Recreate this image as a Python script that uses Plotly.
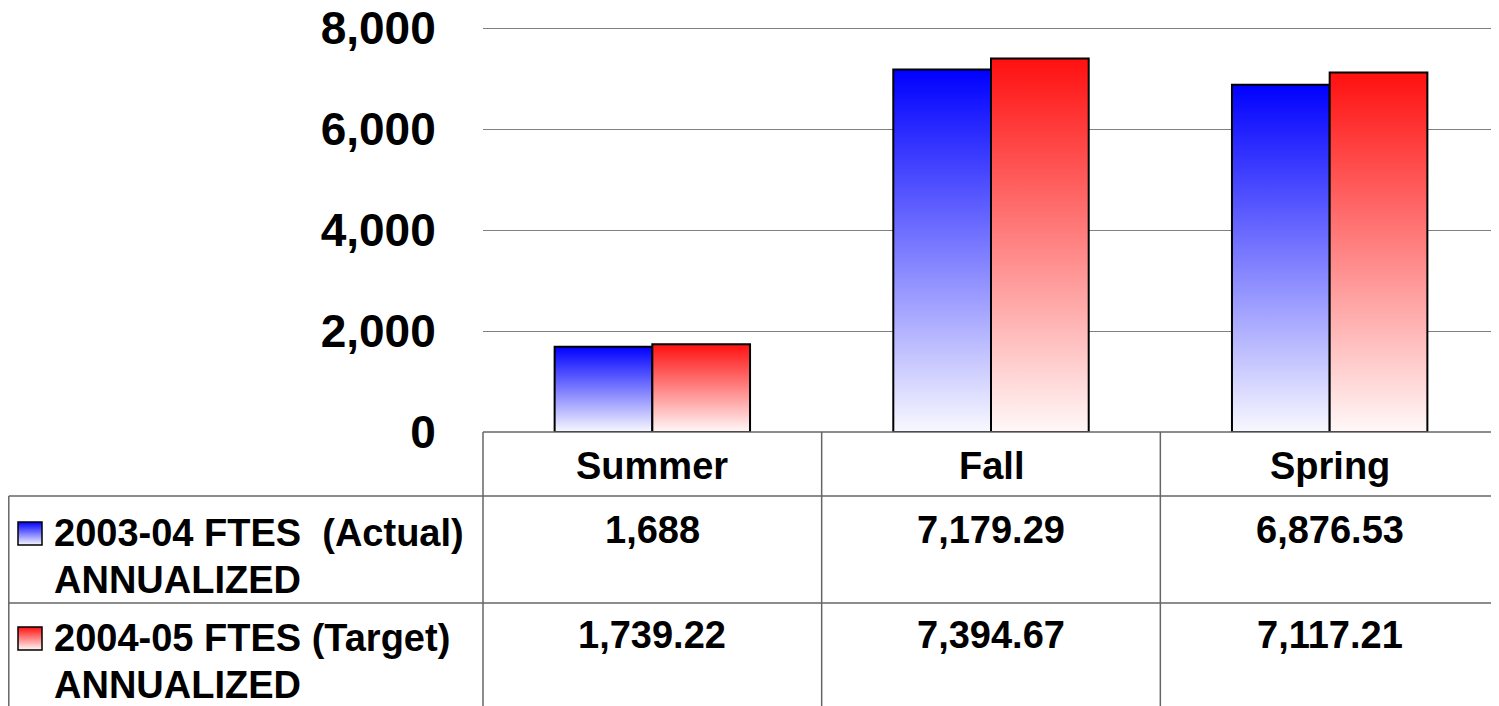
import plotly.graph_objects as go

# data
seasons = ["Summer", "Fall", "Spring"]
series_names = ["2003-04 FTES\u00a0 (Actual)", "2004-05 FTES (Target)"]
series_note = "ANNUALIZED"
ftes_actual = [1688, 7179.29, 6876.53]
ftes_target = [1739.22, 7394.67, 7117.21]
y_ticks = [0, 2000, 4000, 6000, 8000]
y_max = 8000

# look
FONT = "Arial, Liberation Sans, sans-serif"
BLUE = ("#f8f8ff", "#0000ff")  # bottom, top
RED = ("#fff8f8", "#ff1010")
GRID = "#808080"
TABLE_LINE = "#666666"
BAR_W = 0.2885

# geometry in page pixels (the page body adds an 8px margin)
OFF = 8
W, H = 1499 - OFF, 706 - OFF
PLOT_L, PLOT_B = 483, 432
TOP_GRID = 28            # where y_max sits
PLOT_T = TOP_GRID - 3    # a few px of headroom so the top gridline is kept
L, T = PLOT_L - OFF, PLOT_T - OFF
B = H - (PLOT_B - OFF)
PW, PH = W - L, H - T - B
y_top = y_max * (PLOT_B - PLOT_T) / (PLOT_B - TOP_GRID)


def px(x):
    return (x - PLOT_L) / PW


def py(y):
    return (PLOT_B - y) / PH


def mix(c0, c1, t):
    a = [int(c0[i:i + 2], 16) for i in (1, 3, 5)]
    b = [int(c1[i:i + 2], 16) for i in (1, 3, 5)]
    return "rgb(%d,%d,%d)" % tuple(round(a[k] + (b[k] - a[k]) * t) for k in range(3))


fig = go.Figure()

series = [(ftes_actual, BLUE, -BAR_W), (ftes_target, RED, 0.0)]
for vals, cols, offset in series:
    for i, v in enumerate(vals):
        x0 = i + offset
        x1 = x0 + BAR_W
        fig.add_trace(go.Scatter(
            x=[x0, x0, x1, x1, x0], y=[0, v, v, 0, 0],
            mode="lines", fill="toself",
            fillgradient=dict(type="vertical", colorscale=[[0, cols[0]], [1, cols[1]]]),
            line=dict(color="black", width=2),
            hoverinfo="skip", showlegend=False,
        ))

n = len(seasons)
shapes = []
ann = []
line = dict(color=TABLE_LINE, width=1.5)
left_edge = OFF + 0.8
page_bottom = 706

# data table grid
shapes.append(dict(type="line", xref="paper", yref="paper", x0=0, x1=1, y0=py(432), y1=py(432), line=line))
for yy in (496, 603):
    shapes.append(dict(type="line", xref="paper", yref="paper", x0=px(left_edge), x1=1,
                       y0=py(yy), y1=py(yy), line=line))
shapes.append(dict(type="line", xref="paper", yref="paper", x0=px(left_edge), x1=px(left_edge),
                   y0=py(496), y1=py(page_bottom), line=line))
for k in range(n):
    shapes.append(dict(type="line", xref="paper", yref="paper", x0=k / n, x1=k / n,
                       y0=py(432), y1=py(page_bottom), line=line))

cell_font = dict(family=FONT, size=38, color="black", weight="bold")
for i, s in enumerate(seasons):
    ann.append(dict(x=i, y=py(466), xref="x", yref="paper", text=s, showarrow=False,
                    font=cell_font, xanchor="center", yanchor="middle"))

rows = [(ftes_actual, 533, BLUE), (ftes_target, 638, RED)]
for (vals, yc, cols), name in zip(rows, series_names):
    for i, v in enumerate(vals):
        ann.append(dict(x=i, y=py(yc - 3), xref="x", yref="paper", text=f"{v:,}", showarrow=False,
                        font=cell_font, xanchor="center", yanchor="middle"))
    ann.append(dict(x=px(52), y=py(yc), xref="paper", yref="paper", text=name, showarrow=False,
                    font=cell_font, xanchor="left", yanchor="middle"))
    ann.append(dict(x=px(52), y=py(yc + 47), xref="paper", yref="paper", text=series_note, showarrow=False,
                    font=cell_font, xanchor="left", yanchor="middle"))
    # legend key with gradient strips
    top, bot = yc - 11, yc + 12
    strips = 23
    for k in range(strips):
        t = 1 - (k + 0.5) / strips
        shapes.append(dict(type="rect", xref="paper", yref="paper",
                           x0=px(18), x1=px(42),
                           y0=py(top + (bot - top) * k / strips),
                           y1=py(top + (bot - top) * (k + 1) / strips),
                           fillcolor=mix(cols[0], cols[1], t), line=dict(width=0)))
    shapes.append(dict(type="rect", xref="paper", yref="paper", x0=px(18), x1=px(42),
                       y0=py(top), y1=py(bot), line=dict(color="black", width=1.5)))

fig.update_layout(
    width=W, height=H,
    margin=dict(l=L, r=0, t=T, b=B, pad=0, autoexpand=False),
    plot_bgcolor="white", paper_bgcolor="white",
    font=dict(family=FONT, color="black"),
    shapes=shapes, annotations=ann,
    xaxis=dict(range=[-0.5, n - 0.5], showticklabels=False, showgrid=False,
               zeroline=False, showline=False, fixedrange=True, automargin=False),
    yaxis=dict(range=[0, y_top], tickvals=y_ticks, tickformat=",",
               tickfont=dict(family=FONT, size=46, color="black", weight="bold"),
               ticks="outside", ticklen=37, tickcolor="rgba(0,0,0,0)",
               ticklabeloverflow="allow", automargin=False,
               showgrid=True, gridcolor=GRID, gridwidth=1,
               zeroline=False, showline=False, fixedrange=True),
    hovermode=False,
)

fig.write_html("out.html")
